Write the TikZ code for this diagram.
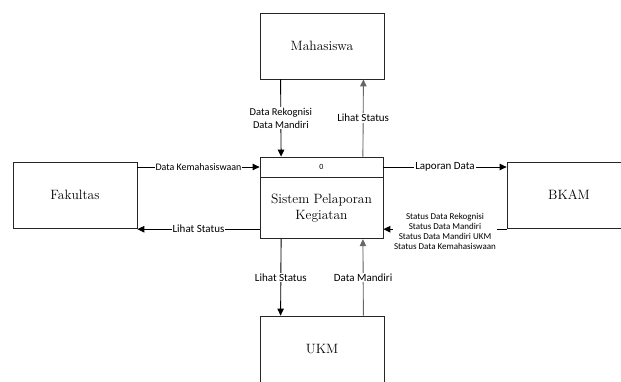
\documentclass[tikz,border=0pt]{standalone}
\usepackage{fontspec}
\newfontfamily\flowfont{Carlito}
\usetikzlibrary{positioning,calc,arrows.meta}

\tikzset{
  entity/.style={draw=black!85, line width=0.8pt, minimum width=124pt, minimum height=66pt, font=\rmfamily\fontsize{13.5}{16}\selectfont},
  procbox/.style={draw=black!85, line width=0.8pt, minimum width=123pt, align=center, inner sep=0pt},
  flow/.style={line width=0.9pt, -{Triangle[length=7pt,width=6.5pt]}},
  flowup/.style={flow, draw=black!60, fill=black!60},
  flowlabel/.style={fill=white, inner sep=1pt, align=center, font=\flowfont\fontsize{11}{12}\selectfont},
}

\begin{document}
\begin{tikzpicture}[x=1pt, y=-1pt]
    \useasboundingbox (0,0) rectangle (621,381);
    \clip (0,0) rectangle (621,381);

    % External entities
    \node[entity] (maha) at (322,46) {Mahasiswa};
    \node[entity] (fak) at (75,195) {Fakultas};
    \node[entity] (bkam) at (569,195) {BKAM};
    \node[entity] (ukm) at (322,349) {UKM};

    % Process
    \node[procbox, minimum height=20pt, font=\flowfont\fontsize{8}{9}\selectfont] (pid) at (321.5,167) {0};
    \node[procbox, minimum height=61pt, font=\rmfamily\fontsize{13.5}{16}\selectfont, below=0pt of pid] (pname) {Sistem Pelaporan\\Kegiatan};

    % Mahasiswa
    \draw[flow] ([xshift=21pt]maha.south west) -- node[flowlabel, font=\flowfont\fontsize{10.5}{13}\selectfont] {Data Rekognisi\\Data Mandiri} ([xshift=21.5pt]pid.north west);
    \draw[flowup] ([xshift=-20.5pt]pid.north east) -- node[flowlabel] {Lihat Status} ([xshift=-21pt]maha.south east);

    % Fakultas
    \draw[flow] (fak.east |- pid.west) -- node[flowlabel, font=\flowfont\fontsize{10}{11}\selectfont] {Data Kemahasiswaan} (pid.west);
    \draw[flow] ([yshift=10pt]pname.south west) -- node[flowlabel] {Lihat Status} ([yshift=10pt]pname.south west -| fak.east);

    % BKAM
    \draw[flow] (pid.east) -- node[flowlabel] {Laporan Data} (pid.east -| bkam.west);
    \draw[flow] ([yshift=10pt]pname.south east -| bkam.west) -- node[flowlabel, yshift=-2pt, font=\flowfont\fontsize{9}{10}\selectfont] {Status Data Rekognisi\\Status Data Mandiri\\Status Data Mandiri UKM\\Status Data Kemahasiswaan} ([yshift=10pt]pname.south east);

    % UKM
    \draw[flow] ([xshift=21.5pt]pname.south west) -- node[flowlabel] {Lihat Status} ([xshift=21pt]ukm.north west);
    \draw[flowup] ([xshift=-21pt]ukm.north east) -- node[flowlabel] {Data Mandiri} ([xshift=-20.5pt]pname.south east);
\end{tikzpicture}
\end{document}
